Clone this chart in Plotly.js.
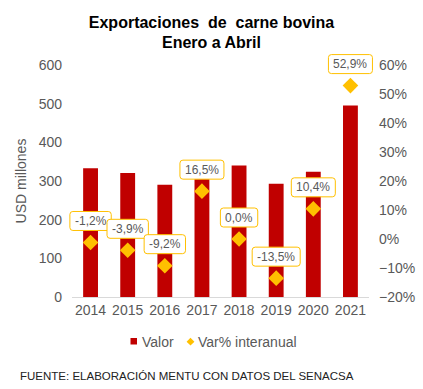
<!DOCTYPE html>
<html>
<head>
<meta charset="utf-8">
<script src="https://cdn.plot.ly/plotly-3.0.1.min.js"></script>
<style>html,body{margin:0;padding:0;background:#fff;}#chart{width:423px;height:389px;}</style>
</head>
<body>
<div id="chart"></div>
<script>
const years = [2014, 2015, 2016, 2017, 2018, 2019, 2020, 2021];
const valor = [333, 321, 290, 338, 340, 293, 324, 495];
const varPct = [-1.2, -3.9, -9.2, 16.5, 0.0, -13.5, 10.4, 52.9];
const leftTicks = [0, 100, 200, 300, 400, 500, 600];
const rightTicks = [-0.2, -0.1, 0, 0.1, 0.2, 0.3, 0.4, 0.5, 0.6];
const seriesNames = ['Valor', 'Var% interanual'];

const grey = '#595959';
const red = '#C00000';
const gold = '#FFC000';
const fam = 'Liberation Sans, Arial, sans-serif';

const xRange = [2013.5, 2021.5];
const y2Range = [-0.2, 0.6];

// plot-area geometry (pixels) used to place legend/source in paper coordinates
const L = 72, R = 54, T = 65, B = 92, W = 423, H = 389;
const pw = W - L - R, ph = H - T - B;
const px = v => (v - L) / pw;
const py = v => (H - B - v) / ph;
// data -> paper (so label boxes are not clipped by the plot area)
const xp = v => (v - xRange[0]) / (xRange[1] - xRange[0]);
const y2p = v => (v - y2Range[0]) / (y2Range[1] - y2Range[0]);

function fmt(v){ return v.toFixed(1).replace('.', ',') + '%'; }

const ctx = document.createElement('canvas').getContext('2d');
ctx.font = '12px "Liberation Sans"';
function tw(s){ return ctx.measureText(s).width; }

const traces = [
  {type:'bar', x: years, y: valor, name: seriesNames[0], marker:{color: red}, width:0.4, yaxis:'y', hoverinfo:'none', showlegend:false},
  {type:'scatter', mode:'markers', x: years, y: varPct.map(v=>v/100), name: seriesNames[1],
   marker:{symbol:'diamond', color: gold, size:12}, yaxis:'y2', hoverinfo:'none', showlegend:false}
];

function roundRect(w, h, r, cy){
  const x0 = -w/2, x1 = w/2, y0 = cy - h/2, y1 = cy + h/2;
  return `M ${x0+r},${y0} L ${x1-r},${y0} Q ${x1},${y0} ${x1},${y0+r} L ${x1},${y1-r} Q ${x1},${y1} ${x1-r},${y1} ` +
         `L ${x0+r},${y1} Q ${x0},${y1} ${x0},${y1-r} L ${x0},${y0+r} Q ${x0},${y0} ${x0+r},${y0} Z`;
}

const shapes = years.map((yr,i)=>({
  type:'path', xref:'paper', yref:'paper', xsizemode:'pixel', ysizemode:'pixel',
  xanchor: xp(yr), yanchor: y2p(varPct[i]/100),
  path: roundRect(tw(fmt(varPct[i])) + 10, 19, 3, 21.5),
  fillcolor:'#ffffff', line:{color: gold, width:1}, layer:'above'
}));

const annotations = years.map((yr,i)=>({
  x: yr, y: varPct[i]/100, xref:'x', yref:'y2', yshift: 21.5,
  text: fmt(varPct[i]), showarrow:false,
  font:{family:fam, size:12, color:grey}
}));

// custom legend
shapes.push({type:'rect', xref:'paper', yref:'paper', x0:px(130.5), x1:px(137), y0:py(338), y1:py(344.5),
             fillcolor: red, line:{width:0}});
shapes.push({type:'path', xref:'paper', yref:'paper',
             path:`M ${px(190.5)},${py(337.8)} L ${px(194.4)},${py(341.7)} L ${px(190.5)},${py(345.6)} L ${px(186.6)},${py(341.7)} Z`,
             fillcolor: gold, line:{width:0}});
annotations.push({xref:'paper', yref:'paper', x:px(139.5), y:py(342), xanchor:'left', yanchor:'middle',
  text: seriesNames[0], showarrow:false, font:{family:fam, size:14, color:grey}});
annotations.push({xref:'paper', yref:'paper', x:px(195.5), y:py(342), xanchor:'left', yanchor:'middle',
  text: seriesNames[1], showarrow:false, font:{family:fam, size:14, color:grey}});

annotations.push({
  xref:'paper', yref:'paper', x:px(18), y:py(376), xanchor:'left', yanchor:'middle',
  text:'FUENTE: ELABORACIÓN MENTU CON DATOS DEL SENACSA', showarrow:false,
  font:{family:fam, size:11.5, color:'#222222'}
});

const layout = {
  width:W, height:H,
  margin:{l:L, r:R, t:T, b:B},
  paper_bgcolor:'#ffffff', plot_bgcolor:'#ffffff',
  font:{family:fam, size:14, color:grey},
  title:{text:'<b>Exportaciones  de  carne bovina<br>Enero a Abril</b>', font:{family:fam, size:16, color:'#000000'},
         x:0.5, xanchor:'center', y:1-27.5/389, yanchor:'middle', yref:'container'},
  xaxis:{range:xRange, tickvals: years, ticktext: years.map(String), showgrid:false, showline:true,
         linecolor:'#d9d9d9', linewidth:1, ticks:'', tickfont:{size:14, color:grey}, zeroline:false},
  yaxis:{range:[0,600], tickvals:leftTicks, showgrid:false, zeroline:false, showline:false, ticks:'',
         ticklabelstandoff:9, tickfont:{size:14, color:grey},
         title:{text:'USD millones', font:{size:14, color:grey}, standoff:8}},
  yaxis2:{range:y2Range, tickvals:rightTicks, tickformat:'.0%', overlaying:'y', side:'right',
          showgrid:false, zeroline:false, showline:false, ticks:'', ticklabelstandoff:9,
          tickfont:{size:14, color:grey}},
  separators:',.',
  showlegend:false,
  shapes: shapes,
  annotations: annotations
};

Plotly.newPlot('chart', traces, layout, {displayModeBar:false, staticPlot:true});
</script>
</body>
</html>
